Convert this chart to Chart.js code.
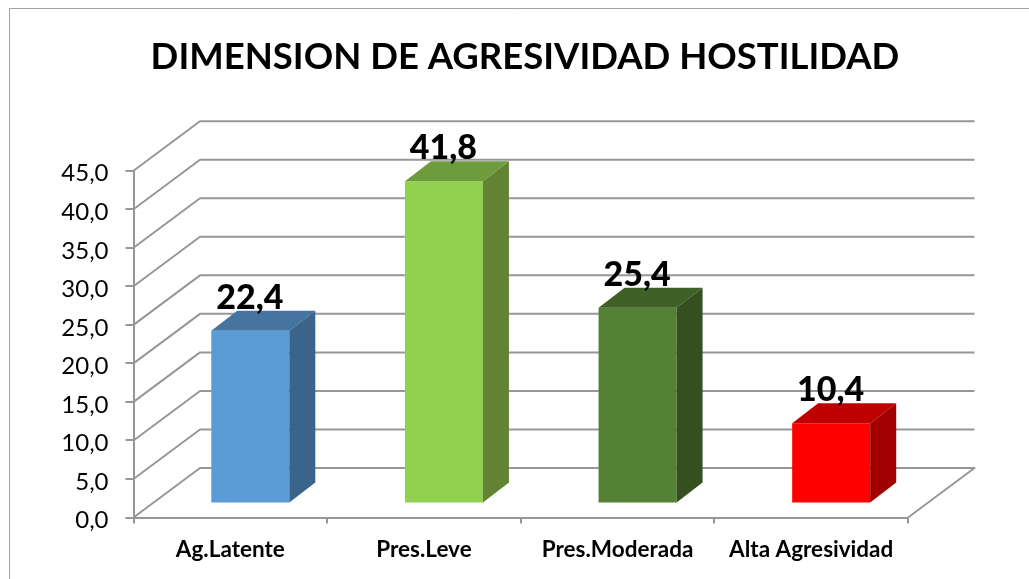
<!DOCTYPE html>
<html>
<head>
<meta charset="utf-8">
<style>html,body{margin:0;padding:0;background:#fff;overflow:hidden}canvas{display:block}</style>
<script src="https://cdn.jsdelivr.net/npm/chart.js@4/dist/chart.umd.min.js"></script>
</head>
<body>
<canvas id="c" width="1029" height="579"></canvas>
<script>
const chartTitle = 'DIMENSION DE AGRESIVIDAD HOSTILIDAD';
const categories = ['Ag.Latente', 'Pres.Leve', 'Pres.Moderada', 'Alta Agresividad'];
const values = [22.4, 41.8, 25.4, 10.4];
const frontColors = ['#5B9BD5', '#92D050', '#548235', '#FF0000'];
const topColors = ['#44749F', '#6E9C3C', '#3F6127', '#BF0000'];
const sideColors = ['#3A6489', '#628432', '#354F20', '#A00000'];
const FONT = 'Lato, Carlito, sans-serif';
const GRID = '#979797';
const wall = {dx: 66.5, dy: -49.5};
const barShift = {dx: 20, dy: -14};
const barDepth = {dx: 26, dy: -20};
const comma = v => Number(v).toFixed(1).replace('.', ',');

const poly = (ctx, pts, fill) => {
  ctx.beginPath();
  pts.forEach((p, i) => i ? ctx.lineTo(p[0], p[1]) : ctx.moveTo(p[0], p[1]));
  ctx.closePath();
  ctx.fillStyle = fill;
  ctx.fill();
};

const box3d = {
  id: 'box3d',
  beforeDraw(chart) {
    const ctx = chart.ctx;
    ctx.save();
    ctx.strokeStyle = '#A3A3A3';
    ctx.lineWidth = 1;
    ctx.beginPath();
    ctx.moveTo(9.5, 579);
    ctx.lineTo(9.5, 8.5);
    ctx.lineTo(1029, 8.5);
    ctx.stroke();
    ctx.restore();
  },
  beforeDatasetsDraw(chart) {
    const ctx = chart.ctx, y = chart.scales.y, a = chart.chartArea;
    ctx.save();
    ctx.strokeStyle = GRID;
    ctx.lineWidth = 2;
    ctx.lineJoin = 'round';
    y.ticks.forEach(t => {
      const py = y.getPixelForValue(t.value);
      ctx.beginPath();
      ctx.moveTo(a.left, py);
      ctx.lineTo(a.left + wall.dx, py + wall.dy);
      ctx.lineTo(a.right + wall.dx, py + wall.dy);
      if (t.value === 0) {
        ctx.lineTo(a.right, py);
      }
      ctx.stroke();
    });
    ctx.restore();
  },
  beforeDatasetDraw(chart) {
    chart.ctx.save();
    chart.ctx.translate(barShift.dx, barShift.dy);
  },
  afterDatasetDraw(chart) {
    chart.ctx.restore();
  },
  afterDatasetsDraw(chart) {
    const ctx = chart.ctx;
    chart.getDatasetMeta(0).data.forEach((bar, i) => {
      const l = bar.x - bar.width / 2 + barShift.dx;
      const r = bar.x + bar.width / 2 + barShift.dx;
      const t = bar.y + barShift.dy;
      const b = bar.base + barShift.dy;
      const dx = barDepth.dx, dy = barDepth.dy;
      poly(ctx, [[l, t], [l + dx, t + dy], [r + dx, t + dy], [r, t]], topColors[i]);
      poly(ctx, [[r, t], [r + dx, t + dy], [r + dx, b + dy], [r, b]], sideColors[i]);
      ctx.save();
      ctx.fillStyle = '#000';
      ctx.font = '900 34px ' + FONT;
      ctx.textAlign = 'center';
      ctx.textBaseline = 'alphabetic';
      ctx.fillText(comma(values[i]), (l + r) / 2 - 0.5, t - 22);
      ctx.restore();
    });
  }
};

new Chart(document.getElementById('c'), {
  type: 'bar',
  data: {
    labels: categories,
    datasets: [{
      data: values,
      backgroundColor: frontColors,
      borderWidth: 0,
      clip: false,
      barPercentage: 0.403,
      categoryPercentage: 1
    }]
  },
  plugins: [box3d],
  options: {
    responsive: false,
    animation: false,
    layout: {padding: {left: 21, right: 0, top: 0, bottom: 0}},
    plugins: {
      legend: {display: false},
      tooltip: {enabled: false},
      title: {
        display: true,
        text: chartTitle,
        color: '#000',
        font: {family: FONT, size: 36.5, weight: 'bold', lineHeight: 1.2},
        padding: {top: 35, bottom: 91.9}
      }
    },
    scales: {
      x: {
        afterFit(s) { s.height = 61.5; },
        grid: {drawOnChartArea: false, color: GRID, lineWidth: 2, tickLength: 6},
        border: {color: GRID, width: 2},
        ticks: {color: '#000', padding: 12.5, font: {family: FONT, size: 22.5, weight: 'bold'}, maxRotation: 0}
      },
      y: {
        min: 0,
        max: 45,
        afterFit(s) { s.width = 112.5; },
        grid: {drawOnChartArea: false, color: GRID, lineWidth: 2, tickLength: 8},
        border: {color: GRID, width: 2},
        ticks: {stepSize: 5, color: '#000', padding: 17, labelOffset: 3, font: {family: FONT, size: 24}, callback: v => comma(v)}
      },
      spacer: {
        position: 'right',
        afterFit(s) { s.width = 121; },
        grid: {display: false},
        border: {display: false},
        ticks: {display: false}
      }
    }
  }
});
</script>
</body>
</html>
